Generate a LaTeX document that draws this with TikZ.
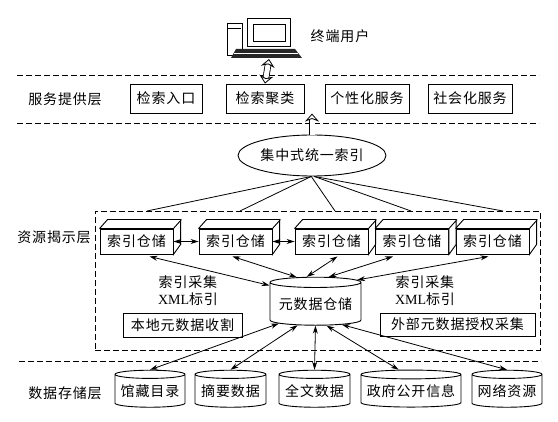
\documentclass[tikz,border=0pt]{standalone}
\usepackage{fontspec}
\setmainfont[LetterSpace=6]{Noto Sans CJK SC}
\newfontfamily\latinfont{Liberation Serif}
\usetikzlibrary{positioning,arrows.meta,shapes.geometric}
\newcommand{\cubeside}[1]{\draw[line width=.9pt,fill=white] (#1.north west)--++(8,-9)--++(73,0)--++(0,25)--(#1.south east)--(#1.north east)--++(8,-9) (#1.north east)--(#1.north west);}
\begin{document}
\begin{tikzpicture}[>={Stealth[length=8pt,width=5pt]},x=1pt,y=-1pt,font=\fontsize{14}{17}\selectfont]
    \tikzstyle{box}=[draw,line width=.9pt,inner sep=0pt,fill=white]
    \tikzstyle{store}=[box,minimum width=73pt,minimum height=25pt]
    \tikzstyle{drum}=[draw,line width=.9pt,cylinder,shape border rotate=90,shape aspect=.14,inner sep=0pt,minimum height=37pt]
    \tikzstyle{layer}=[dash pattern=on 6pt off 3pt,line width=.9pt]
    \tikzstyle{link}=[<->,line width=.8pt]
    \tikzstyle{hollow}=[line width=.8pt,double,double distance=5pt]
    \useasboundingbox (0,0) rectangle (558,422);
    % terminal
    \draw[line width=.8pt] (227,23) rectangle (242,55) (228,28)--(241,28);
    \draw[line width=.9pt] (247,18) rectangle (290,46) (253,24) rectangle (285,41);
    \fill[black!85] (236,49)--(295,49)--(302,58)--(231,58)--cycle;
    \draw[white,line width=.4pt] (234,53)--(298,53);
    \coordinate (pc) at (269,59);
    \node (user) at (340,36) {终端用户};
    % layer lines
    \coordinate (l1a) at (17,75);  \coordinate (l1b) at (539,75);
    \coordinate (l2a) at (17,123); \coordinate (l2b) at (539,123);
    \coordinate (l3a) at (19,361); \coordinate (l3b) at (541,361);
    \draw[layer] (l1a) -- (l1b);
    \draw[layer] (l2a) -- (l2b);
    \draw[layer] (l3a) -- (l3b);
    \node[layer,draw,minimum width=445pt,minimum height=139pt,inner sep=0pt] (reveal) at (317.5,280.5) {};
    % service layer
    \node (lserve) at (65,99) {服务提供层};
    \node[box,minimum width=72pt,minimum height=29pt] (entry) at (166,98.5) {检索入口};
    \node[box,minimum width=78pt,minimum height=29pt] (cluster) at (265,98.5) {检索聚类};
    \node[box,minimum width=84pt,minimum height=29pt] (person) at (367,98.5) {个性化服务};
    \node[box,minimum width=84pt,minimum height=29pt] (social) at (470,98.5) {社会化服务};
    \draw[hollow,{Stealth[open,length=8pt,width=14pt]}-{Stealth[open,length=8pt,width=14pt]}] (pc) -- (cluster.north);
    % index
    \node[draw,line width=.9pt,ellipse,minimum width=148pt,minimum height=41pt,inner sep=0pt] (index) at (312,155.5) {集中式统一索引};
    \draw[hollow,-{Stealth[open,length=8pt,width=14pt]}] (index.north) -- ++(0,-21) coordinate (up);
    \coordinate (r1) at (147,211);
    \coordinate (r2) at (240,211);
    \coordinate (r3) at (335,211);
    \coordinate (r4) at (411,211);
    \coordinate (r5) at (503,211);
    \draw[line width=.8pt] (index.-92) -- (r1);
    \draw[line width=.8pt] (index.-92) -- (r2);
    \draw[line width=.8pt] (index.-92) -- (r3);
    \draw[line width=.8pt] (index.-84) -- (r4);
    \draw[line width=.8pt] (index.-84) -- (r5);
    % reveal layer
    \node (lreveal) at (54,237) {资源揭示层};
    \node[store] (store1) at (136.5,241.5) {索引仓储};
    \node[store] (store2) at (235.5,241.5) {索引仓储};
    \node[store] (store3) at (331.5,241.5) {索引仓储};
    \node[store] (store4) at (412,241.5) {索引仓储};
    \node[store] (store5) at (492.5,241.5) {索引仓储};
    \cubeside{store1}
    \cubeside{store2}
    \cubeside{store3}
    \cubeside{store4}
    \cubeside{store5}
    \draw[<->,line width=.9pt] (store1.east) -- (store2.west);
    \draw[<->,line width=.9pt] (store2.east) -- (store3.west);
    \node[drum,minimum width=91pt,minimum height=48pt] (meta) at (315.5,304) {\raisebox{-3pt}{元数据仓储}};
    \draw[link] ([xshift=13pt,yshift=-2pt]store1.south) -- (meta.158);
    \draw[link] ([xshift=-3pt,yshift=-2pt]store2.south) -- (meta.125);
    \draw[link] ([xshift=6pt,yshift=-2pt]store3.south) -- (meta.108);
    \draw[link] ([xshift=-19pt,yshift=-2pt]store4.south) -- (meta.64);
    \draw[link] ([xshift=-4pt,yshift=-2pt]store5.south) -- (meta.30);
    \node[align=center] (gleft) at (188,290.5) {索引采集\\{\latinfont XML}标引};
    \node[align=center] (gright) at (425,290.5) {索引采集\\{\latinfont XML}标引};
    \node[box,minimum width=119pt,minimum height=24pt] (local) at (182.5,325) {本地元数据收割};
    \node[box,minimum width=155pt,minimum height=23pt] (outer) at (457.5,324.5) {外部元数据授权采集};
    % storage layer
    \node (lstore) at (65,393) {数据存储层};
    \node[drum,minimum width=70pt] (shelf) at (150,391) {馆藏目录};
    \node[drum,minimum width=71pt] (abstract) at (230.5,391) {\raisebox{-3pt}{摘要数据}};
    \node[drum,minimum width=71pt] (full) at (314.5,391) {\raisebox{-3pt}{全文数据}};
    \node[drum,minimum width=100pt,shape aspect=.1] (gov) at (411,391) {\raisebox{-3pt}{政府公开信息}};
    \node[drum,minimum width=70pt] (web) at (507,391) {\raisebox{-3pt}{网络资源}};
    \draw[link] (meta.208) -- (shelf.north);
    \draw[link] (meta.230) -- (abstract.north);
    \draw[link] (meta.270) -- (full.north);
    \draw[link] (meta.297) -- (gov.120);
    \draw[link] (meta.322) -- (web.north);
  \end{tikzpicture}
\end{document}
